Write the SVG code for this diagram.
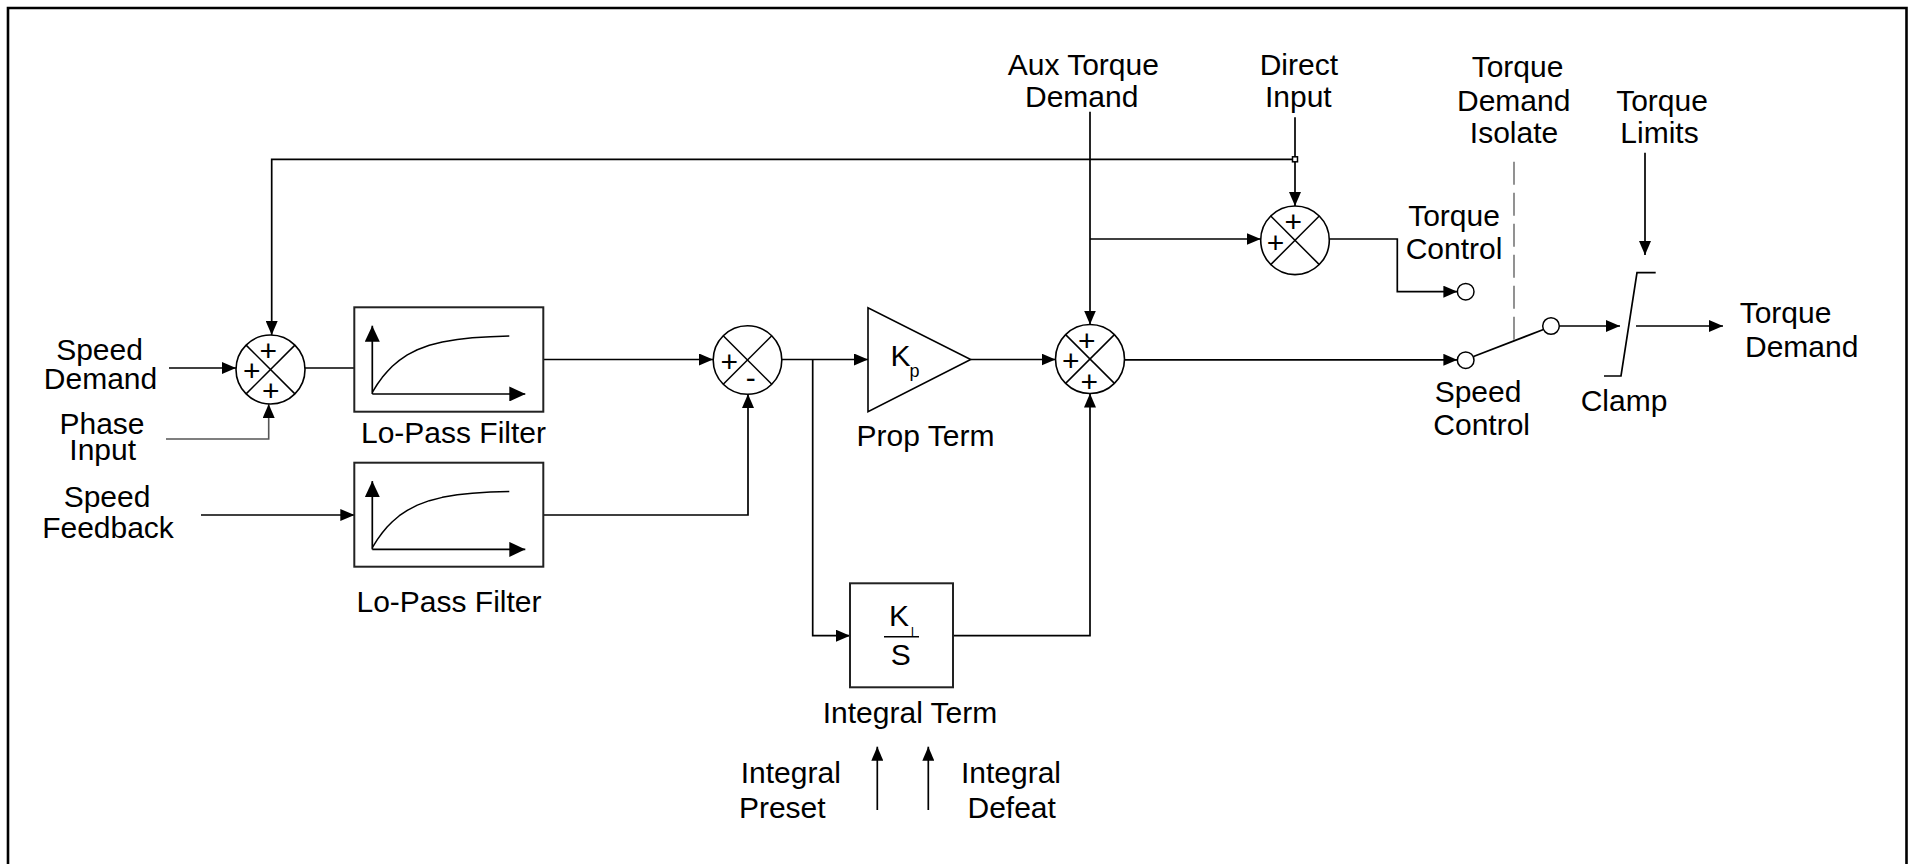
<svg xmlns="http://www.w3.org/2000/svg" width="1910" height="864" viewBox="0 0 1910 864">
<style>
.t{font-family:"Liberation Sans",Arial,sans-serif;font-size:30px;fill:#000;text-anchor:middle}
.s{font-family:"Liberation Sans",Arial,sans-serif;font-size:30px;fill:#000;text-anchor:middle}
.c{fill:none;stroke:#000;stroke-width:1.7}
.g{fill:none;stroke:#555;stroke-width:1.6}
.box{fill:#fff;stroke:#222;stroke-width:2}
.sum{fill:#fff;stroke:#000;stroke-width:1.6}
.x{stroke:#000;stroke-width:1.5}
.term{fill:#fff;stroke:#000;stroke-width:1.5}
.a{marker-end:url(#arr)}
</style>
<defs>
<marker id="arr" markerUnits="userSpaceOnUse" markerWidth="14" markerHeight="12" refX="14" refY="6" orient="auto">
<path d="M0,0 L14,6 L0,12 z" fill="#000"/>
</marker>
<marker id="ax" markerUnits="userSpaceOnUse" markerWidth="16" markerHeight="15" refX="16" refY="7.5" orient="auto">
<path d="M0,0 L16,7.5 L0,15 z" fill="#000"/>
</marker>
<g id="lpf">
<line x1="18" y1="86.7" x2="18" y2="18.4" stroke="#000" stroke-width="1.7" marker-end="url(#ax)"/>
<line x1="18" y1="86.7" x2="171" y2="86.7" stroke="#000" stroke-width="1.7" marker-end="url(#ax)"/>
<path d="M18,85 L23,76.96 L28,70.05 L33,64.11 L38,59 L45,53.04 L53,47.61 L63,42.43 L75,37.97 L88,34.66 L103,32.15 L118,30.56 L136,29.4 L155,28.7" fill="none" stroke="#000" stroke-width="1.5" stroke-linejoin="round"/>
</g>
</defs>
<rect width="1910" height="864" fill="#fff"/>
<path d="M8,875 V8 H1906.5 V875" fill="none" stroke="#000" stroke-width="2.6"/>

<g id="connectors">
<path class="c a" d="M169,368 H236"/>
<path class="g a" d="M166,439 H268.7 V404"/>
<path class="c a" d="M1295,159.3 H271.7 V335"/>
<path class="c" d="M305,368 H354.3"/>
<path class="c a" d="M201,515 H354.3"/>
<path class="c a" d="M543.3,359.5 H713"/>
<path class="c a" d="M543.3,515 H748 V394"/>
<path class="c a" d="M782,359.5 H868"/>
<path class="c a" d="M812.7,359.5 V635.7 H850"/>
<path class="c a" d="M970.7,359.5 H1055.5"/>
<path class="c a" d="M952.7,635.7 H1090 V393.5"/>
<path class="c a" d="M1090,111.7 V324.5"/>
<path class="c a" d="M1090,239 H1260.7"/>
<path class="c a" d="M1295,117.3 V206"/>
<path class="c a" d="M1329.3,239 H1397.3 V291.7 H1457.4"/>
<path class="c a" d="M1124.5,359.8 H1457.4"/>
<path class="c" d="M1473.5,356.5 L1543.5,329.5"/>
<path class="c a" d="M1559.3,326 H1620"/>
<path class="c a" d="M1645,152.7 V255"/>
<path class="c a" d="M1636,326 H1723"/>
<path d="M1514,161.7 V341" fill="none" stroke="#777" stroke-width="1.6" stroke-dasharray="23,8"/>
<path class="c a" d="M877.3,810 V746.7"/>
<path class="c a" d="M928.3,810 V746.7"/>
<rect x="1292.5" y="156.8" width="5" height="5" fill="#fff" stroke="#000" stroke-width="1.5"/>
</g>

<g id="sum1">
<circle class="sum" cx="270.5" cy="369.5" r="34.5"/>
<line class="x" x1="246.1" y1="345.1" x2="294.9" y2="393.9"/>
<line class="x" x1="294.9" y1="345.1" x2="246.1" y2="393.9"/>
<text class="s" x="268.3" y="361.2">+</text>
<text class="s" x="251.8" y="381.3">+</text>
<text class="s" x="270.8" y="400.7">+</text>
</g>

<g id="lpf1">
<rect class="box" x="354.3" y="307.3" width="189" height="104.4"/>
<use href="#lpf" x="354.3" y="307.3"/>
<text class="t" x="453.5" y="443.3">Lo-Pass Filter</text>
</g>

<g id="lpf2">
<rect class="box" x="354.3" y="462.7" width="189" height="104"/>
<use href="#lpf" x="354.3" y="462.7"/>
<text class="t" x="449" y="611.7">Lo-Pass Filter</text>
</g>

<g id="sum2">
<circle class="sum" cx="747.5" cy="360" r="34.3"/>
<line class="x" x1="723.2" y1="335.7" x2="771.8" y2="384.3"/>
<line class="x" x1="771.8" y1="335.7" x2="723.2" y2="384.3"/>
<text class="s" x="729.2" y="371.7">+</text>
<text class="s" x="750.8" y="388.2">-</text>
</g>

<g id="prop">
<path d="M868,307.7 L868,411.7 L970.7,359.5 z" fill="#fff" stroke="#000" stroke-width="1.6"/>
<text class="t" x="900.5" y="366">K</text>
<text x="914.5" y="377" style="font-family:'Liberation Sans',Arial,sans-serif;font-size:18px;text-anchor:middle">p</text>
<text class="t" x="925.5" y="445.7">Prop Term</text>
</g>

<g id="sum3">
<circle class="sum" cx="1090" cy="359" r="34.5"/>
<line class="x" x1="1065.6" y1="334.6" x2="1114.4" y2="383.4"/>
<line class="x" x1="1114.4" y1="334.6" x2="1065.6" y2="383.4"/>
<text class="s" x="1086.7" y="351.3">+</text>
<text class="s" x="1070.8" y="371.3">+</text>
<text class="s" x="1089.2" y="392.3">+</text>
</g>

<g id="sum4">
<circle class="sum" cx="1295" cy="240.3" r="34.3"/>
<line class="x" x1="1270.7" y1="216" x2="1319.3" y2="264.6"/>
<line class="x" x1="1319.3" y1="216" x2="1270.7" y2="264.6"/>
<text class="s" x="1293.3" y="232.2">+</text>
<text class="s" x="1275.5" y="252.7">+</text>
</g>

<g id="integral">
<rect class="box" x="850" y="583.3" width="103" height="104"/>
<text class="t" x="899" y="625.7">K</text>
<text x="912.5" y="636" style="font-family:'Liberation Sans',Arial,sans-serif;font-size:12px;text-anchor:middle">I</text>
<line x1="884" y1="636.7" x2="919" y2="636.7" stroke="#000" stroke-width="1.6"/>
<text class="t" x="900.7" y="665">S</text>
<text class="t" x="910" y="723">Integral Term</text>
</g>

<g id="terminals">
<circle class="term" cx="1465.7" cy="291.7" r="8.3"/>
<circle class="term" cx="1465.7" cy="360.2" r="8.3"/>
<circle class="term" cx="1551" cy="326" r="8.3"/>
</g>

<g id="clamp">
<path d="M1655.7,272.7 H1637 L1621,376 H1604" fill="none" stroke="#000" stroke-width="1.7"/>
<text class="t" x="1624" y="410.7">Clamp</text>
</g>

<g id="labels">
<text class="t" x="99.5" y="360">Speed</text>
<text class="t" x="100.5" y="389.3">Demand</text>
<text class="t" x="102" y="434">Phase</text>
<text class="t" x="102.7" y="460">Input</text>
<text class="t" x="107" y="507.3">Speed</text>
<text class="t" x="108" y="538.3">Feedback</text>
<text class="t" x="1083.3" y="75">Aux Torque</text>
<text class="t" x="1081.7" y="107.3">Demand</text>
<text class="t" x="1298.8" y="75">Direct</text>
<text class="t" x="1298.3" y="107.3">Input</text>
<text class="t" x="1517.5" y="76.7">Torque</text>
<text class="t" x="1513.7" y="111">Demand</text>
<text class="t" x="1514" y="143.3">Isolate</text>
<text class="t" x="1662" y="111">Torque</text>
<text class="t" x="1659.5" y="143.3">Limits</text>
<text class="t" x="1454" y="226">Torque</text>
<text class="t" x="1454" y="259.3">Control</text>
<text class="t" x="1478" y="401.7">Speed</text>
<text class="t" x="1481.7" y="435">Control</text>
<text class="t" x="1785.5" y="323.3">Torque</text>
<text class="t" x="1801.7" y="357.3">Demand</text>
<text class="t" x="790.8" y="783">Integral</text>
<text class="t" x="782.3" y="818">Preset</text>
<text class="t" x="1011" y="783">Integral</text>
<text class="t" x="1011.7" y="818">Defeat</text>
</g>
</svg>
